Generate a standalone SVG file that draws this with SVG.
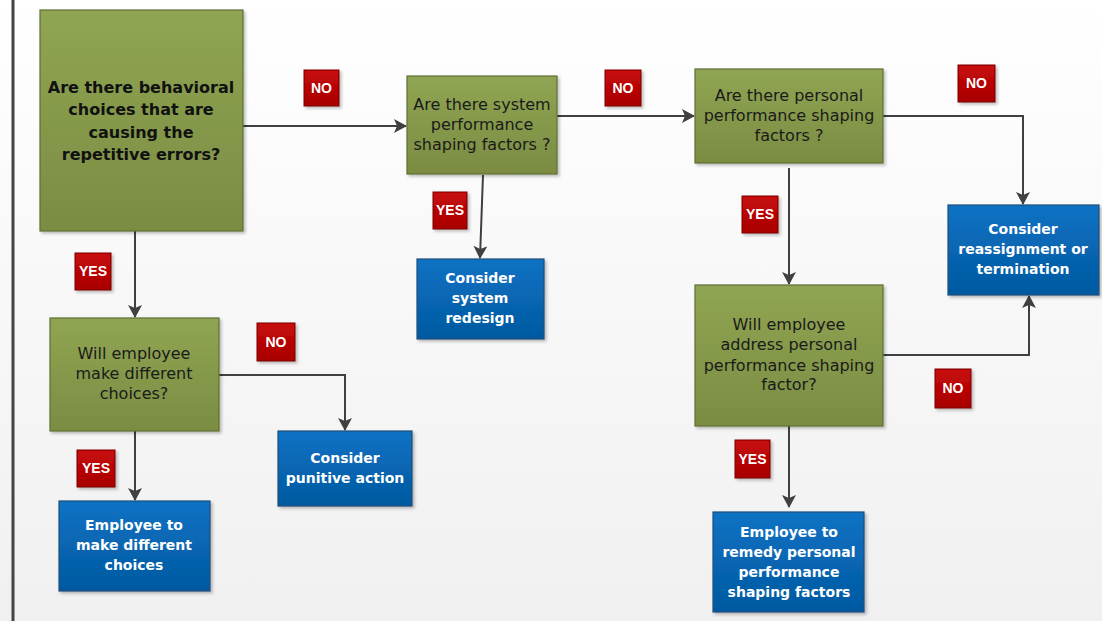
<svg xmlns="http://www.w3.org/2000/svg" width="1102" height="621" viewBox="0 0 1102 621">
<defs>
<linearGradient id="bg" x1="0" y1="0" x2="0" y2="1"><stop offset="0" stop-color="#ffffff"/><stop offset="1" stop-color="#f0f0f0"/></linearGradient>
<linearGradient id="g" x1="0" y1="0" x2="0" y2="1"><stop offset="0" stop-color="#90a553"/><stop offset="1" stop-color="#7a8c42"/></linearGradient>
<linearGradient id="b" x1="0" y1="0" x2="0" y2="1"><stop offset="0" stop-color="#0a72c4"/><stop offset="1" stop-color="#0459a0"/></linearGradient>
<linearGradient id="r" x1="0" y1="0" x2="0" y2="1"><stop offset="0" stop-color="#c80a0a"/><stop offset="1" stop-color="#a80000"/></linearGradient>
<marker id="ah" markerWidth="14" markerHeight="14" refX="12" refY="7" orient="auto" markerUnits="userSpaceOnUse"><path d="M0,0 L13,7 L0,14 L3,7 Z" fill="#404040"/></marker>
<filter id="sh" x="-10%" y="-10%" width="130%" height="130%"><feDropShadow dx="2" dy="2" stdDeviation="1.5" flood-color="#000" flood-opacity="0.25"/></filter>
</defs>
<style>
.q{fill:url(#g);stroke:#5f6e35;stroke-width:1.2;filter:url(#sh)}
.a{fill:url(#b);stroke:#1f4e79;stroke-width:1.2;filter:url(#sh)}
.l{fill:url(#r);stroke:#7a0000;stroke-width:1;filter:url(#sh)}
.qt{font-family:"DejaVu Sans",Verdana,sans-serif;font-size:16px;fill:#1a1a1a;text-anchor:middle}
.qb{font-family:"DejaVu Sans",Verdana,sans-serif;font-size:16px;font-weight:bold;fill:#111;text-anchor:middle}
.at{font-family:"DejaVu Sans",Verdana,sans-serif;font-size:14px;font-weight:bold;fill:#fff;text-anchor:middle}
.lt{font-family:"Liberation Sans",Arial,sans-serif;font-size:14px;font-weight:bold;fill:#fff;text-anchor:middle}
.c{fill:none;stroke:#404040;stroke-width:2;marker-end:url(#ah)}
</style>
<rect x="0" y="0" width="1102" height="621" fill="url(#bg)"/>
<line x1="13" y1="0" x2="13" y2="621" stroke="#444" stroke-width="3"/>
<g id="connectors">
<path class="c" d="M243,126 H406"/>
<path class="c" d="M557,116 H694"/>
<path class="c" d="M883,116 H1023 V204"/>
<path class="c" d="M483,175 L480,258"/>
<path class="c" d="M789,168 V284"/>
<path class="c" d="M135,231 V317"/>
<path class="c" d="M219,375 H345 V430"/>
<path class="c" d="M135,431 V500"/>
<path class="c" d="M883,355 H1029 V296"/>
<path class="c" d="M789,426 V507"/>
</g>
<g id="q1"><rect class="q" x="40" y="10" width="203" height="221"/>
<text class="qb"><tspan x="141" y="93">Are there behavioral</tspan><tspan x="141" y="115">choices that are</tspan><tspan x="141" y="138">causing the</tspan><tspan x="141" y="160">repetitive errors?</tspan></text></g>
<g id="q2"><rect class="q" x="407" y="76" width="150" height="98"/>
<text class="qt"><tspan x="482" y="110">Are there system</tspan><tspan x="482" y="130">performance</tspan><tspan x="482" y="150">shaping factors ?</tspan></text></g>
<g id="q3"><rect class="q" x="695" y="69" width="188" height="94"/>
<text class="qt"><tspan x="789" y="101">Are there personal</tspan><tspan x="789" y="121">performance shaping</tspan><tspan x="789" y="141">factors ?</tspan></text></g>
<g id="q4"><rect class="q" x="695" y="285" width="188" height="141"/>
<text class="qt"><tspan x="789" y="330">Will employee</tspan><tspan x="789" y="350">address personal</tspan><tspan x="789" y="371">performance shaping</tspan><tspan x="789" y="390">factor?</tspan></text></g>
<g id="q5"><rect class="q" x="50" y="318" width="169" height="113"/>
<text class="qt"><tspan x="134" y="359">Will employee</tspan><tspan x="134" y="379">make different</tspan><tspan x="134" y="399">choices?</tspan></text></g>
<g id="a1"><rect class="a" x="948" y="205" width="151" height="90"/>
<text class="at"><tspan x="1023" y="234">Consider</tspan><tspan x="1023" y="254">reassignment or</tspan><tspan x="1023" y="274">termination</tspan></text></g>
<g id="a2"><rect class="a" x="417" y="259" width="127" height="80"/>
<text class="at"><tspan x="480" y="283">Consider</tspan><tspan x="480" y="303">system</tspan><tspan x="480" y="323">redesign</tspan></text></g>
<g id="a3"><rect class="a" x="278" y="431" width="134" height="75"/>
<text class="at"><tspan x="345" y="463">Consider</tspan><tspan x="345" y="483">punitive action</tspan></text></g>
<g id="a4"><rect class="a" x="59" y="501" width="151" height="90"/>
<text class="at"><tspan x="134" y="530">Employee to</tspan><tspan x="134" y="550">make different</tspan><tspan x="134" y="570">choices</tspan></text></g>
<g id="a5"><rect class="a" x="713" y="512" width="151" height="100"/>
<text class="at"><tspan x="789" y="537">Employee to</tspan><tspan x="789" y="557">remedy personal</tspan><tspan x="789" y="577">performance</tspan><tspan x="789" y="597">shaping factors</tspan></text></g>
<g id="lbl1"><rect class="l" x="304" y="70" width="35" height="36"/><text class="lt" x="321.5" y="93">NO</text></g>
<g id="lbl2"><rect class="l" x="605" y="70" width="36" height="36"/><text class="lt" x="623" y="93">NO</text></g>
<g id="lbl3"><rect class="l" x="958" y="65" width="37" height="37"/><text class="lt" x="976.5" y="88">NO</text></g>
<g id="lbl4"><rect class="l" x="433" y="192" width="34" height="37"/><text class="lt" x="450" y="215">YES</text></g>
<g id="lbl5"><rect class="l" x="742" y="196" width="36" height="37"/><text class="lt" x="760" y="219">YES</text></g>
<g id="lbl6"><rect class="l" x="935" y="369" width="36" height="39"/><text class="lt" x="953" y="393">NO</text></g>
<g id="lbl7"><rect class="l" x="735" y="440" width="35" height="38"/><text class="lt" x="752.5" y="464">YES</text></g>
<g id="lbl8"><rect class="l" x="257" y="323" width="38" height="38"/><text class="lt" x="276" y="347">NO</text></g>
<g id="lbl9"><rect class="l" x="77" y="450" width="38" height="37"/><text class="lt" x="96" y="473">YES</text></g>
<g id="lbl10"><rect class="l" x="75" y="253" width="36" height="37"/><text class="lt" x="93" y="276">YES</text></g>
</svg>
